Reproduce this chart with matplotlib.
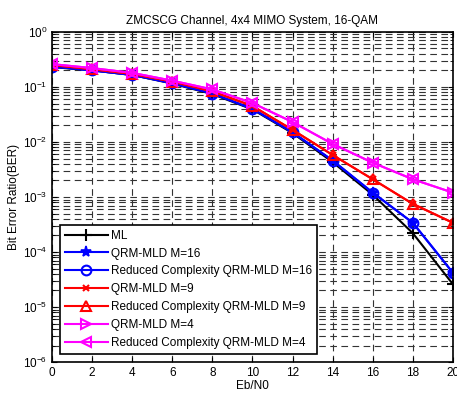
import numpy as np
import matplotlib.pyplot as plt

plt.rcParams['font.family'] = ['Liberation Sans', 'DejaVu Sans']

# Eb/N0 (dB)
ebn0 = [0, 2, 4, 6, 8, 10, 12, 14, 16, 18, 20]

# BER values
ber_ml = [0.23, 0.20, 0.165, 0.115, 0.074, 0.039, 0.0145, 0.0043, 0.0011, 0.00022, 0.000026]
ber_qrm16 = [0.235, 0.20, 0.165, 0.117, 0.076, 0.040, 0.015, 0.0046, 0.0012, 0.00034, 0.000042]
ber_rc16 = [0.235, 0.20, 0.165, 0.117, 0.076, 0.040, 0.015, 0.0046, 0.0012, 0.00034, 0.000042]
ber_qrm9 = [0.25, 0.21, 0.172, 0.125, 0.083, 0.045, 0.0166, 0.0058, 0.0021, 0.00075, 0.00034]
ber_rc9 = [0.25, 0.21, 0.172, 0.125, 0.083, 0.045, 0.0166, 0.0058, 0.0021, 0.00075, 0.00034]
ber_qrm4 = [0.26, 0.22, 0.18, 0.13, 0.09, 0.051, 0.023, 0.0092, 0.0042, 0.0021, 0.0012]
ber_rc4 = [0.26, 0.22, 0.18, 0.13, 0.09, 0.051, 0.023, 0.0092, 0.0042, 0.0021, 0.0012]

mag = '#ff00ff'

fig = plt.figure(figsize=(4.57, 3.94), dpi=100)
ax = fig.add_axes([0.114, 0.081, 0.877, 0.838])

ax.semilogy(ebn0, ber_ml, 'k-+', lw=1.5, ms=8, mew=1.5, label='ML')
ax.semilogy(ebn0, ber_qrm16, 'b-*', lw=1.5, ms=8, mew=1.2, label='QRM-MLD M=16')
ax.semilogy(ebn0, ber_rc16, 'b-o', lw=1.5, ms=7, mew=1.5, mfc='none', label='Reduced Complexity QRM-MLD M=16')
ax.semilogy(ebn0, ber_qrm9, 'r-x', lw=1.5, ms=5, mew=1.5, label='QRM-MLD M=9')
ax.semilogy(ebn0, ber_rc9, 'r-^', lw=1.5, ms=7, mew=1.5, mfc='none', label='Reduced Complexity QRM-MLD M=9')
ax.semilogy(ebn0, ber_qrm4, '->', color=mag, lw=1.5, ms=7, mew=1.5, mfc='none', label='QRM-MLD M=4')
ax.semilogy(ebn0, ber_rc4, '-<', color=mag, lw=1.5, ms=7, mew=1.5, mfc='none', label='Reduced Complexity QRM-MLD M=4')

ax.set_xlim(0, 20)
ax.set_ylim(1e-6, 1)
ax.set_xticks(range(0, 21, 2))
ax.grid(True, which='major', color='#333333', linestyle=(0, (6, 4)), lw=0.8)
ax.grid(True, which='minor', axis='y', color='#333333', linestyle=(0, (6, 4)), lw=0.8)
ax.tick_params(which='both', direction='in', top=True, right=True, labelsize=8.5)
for s in ax.spines.values():
    s.set_linewidth(1.2)

ax.set_title('ZMCSCG Channel, 4x4 MIMO System, 16-QAM', fontsize=8.5)
ax.set_xlabel('Eb/N0', fontsize=8.5, labelpad=1)
ax.set_ylabel('Bit Error Ratio(BER)', fontsize=8.5, labelpad=2)

leg = ax.legend(loc='lower left', fontsize=8.5, fancybox=False, framealpha=1,
                edgecolor='k', borderaxespad=0.7, handlelength=3.6, labelspacing=0.5,
                handletextpad=0.3)
leg.get_frame().set_linewidth(1.2)

fig.savefig('out.png', dpi=100)
